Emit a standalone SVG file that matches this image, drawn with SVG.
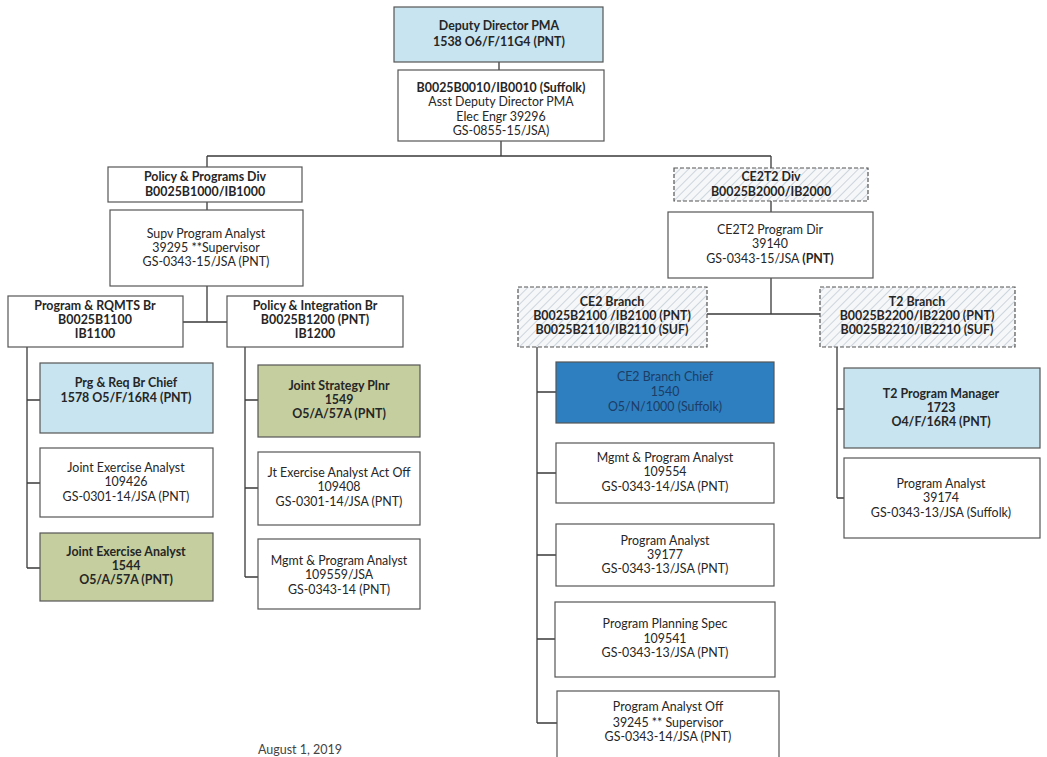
<svg xmlns="http://www.w3.org/2000/svg" width="1047" height="757" viewBox="0 0 1047 757">
<defs>
<pattern id="hatch" patternUnits="userSpaceOnUse" width="6" height="6" patternTransform="rotate(45)">
<rect width="6" height="6" fill="#f6f7f9"/>
<line x1="0" y1="0" x2="0" y2="6" stroke="#c9d1da" stroke-width="1.8"/>
</pattern>
</defs>
<style>
text{font-family:Lato,"Open Sans","Liberation Sans",sans-serif;font-size:12.4px;fill:#262626;text-anchor:middle}
.b{font-weight:bold}
.box{stroke:#555555;stroke-width:1.2}
.w{fill:#ffffff}
.lb{fill:#c7e4f0}
.gr{fill:#c4ce9f}
.db{fill:#2d7fbf}
.dbt{fill:#1d3c66}
.h{fill:url(#hatch);stroke-dasharray:4 2}
.c{stroke:#3a3a3a;stroke-width:1.3;fill:none}
</style>
<rect width="1047" height="757" fill="#ffffff"/>
<g id="connectors">
<path class="c" d="M499 62V70 M501 141V156 M207 156H771 M207 156V167 M771 156V168 M207 202V210 M771 201V212 M207 286V322 M183 322H227 M771 278V314 M707 314H820"/>
<path class="c" d="M27 347V568 M27 400H40 M27 483H40 M27 568H40"/>
<path class="c" d="M245 347V577 M245 400H258 M245 488H258 M245 577H258"/>
<path class="c" d="M537 347V723 M537 392H556 M537 473H556 M537 555H556 M537 639H556 M537 723H557"/>
<path class="c" d="M837 347V498 M837 409H844 M837 498H844"/>
</g>
<g id="deputy"><rect class="box lb" x="394" y="7" width="209" height="55"/><text class="b" x="499" y="30">Deputy Director PMA</text><text class="b" x="499" y="46">1538 O6/F/11G4 (PNT)</text></g>
<g id="asst"><rect class="box w" x="398" y="70" width="206" height="71"/><text class="b" x="501" y="92">B0025B0010/IB0010 (Suffolk)</text><text x="501" y="106">Asst Deputy Director PMA</text><text x="501" y="121">Elec Engr 39296</text><text x="501" y="135">GS-0855-15/JSA)</text></g>
<g id="ppdiv"><rect class="box w" x="108" y="167" width="194" height="35"/><text class="b" x="205" y="181">Policy &amp; Programs Div</text><text class="b" x="205" y="196">B0025B1000/IB1000</text></g>
<g id="supv"><rect class="box w" x="110" y="210" width="193" height="76"/><text x="206" y="238">Supv Program Analyst</text><text x="206" y="252">39295 **Supervisor</text><text x="206" y="266">GS-0343-15/JSA (PNT)</text></g>
<g id="rqmts"><rect class="box w" x="8" y="296" width="175" height="51"/><text class="b" x="95" y="310">Program &amp; RQMTS Br</text><text class="b" x="95" y="324">B0025B1100</text><text class="b" x="95" y="338">IB1100</text></g>
<g id="polint"><rect class="box w" x="227" y="296" width="176" height="51"/><text class="b" x="315" y="310">Policy &amp; Integration Br</text><text class="b" x="315" y="324">B0025B1200 (PNT)</text><text class="b" x="315" y="338">IB1200</text></g>
<g id="prgchief"><rect class="box lb" x="40" y="363" width="173" height="70"/><text class="b" x="126" y="387">Prg &amp; Req Br Chief</text><text class="b" x="126" y="402">1578 O5/F/16R4 (PNT)</text></g>
<g id="jea1"><rect class="box w" x="40" y="448" width="173" height="69"/><text x="126" y="472">Joint Exercise Analyst</text><text x="126" y="486">109426</text><text x="126" y="501">GS-0301-14/JSA (PNT)</text></g>
<g id="jea2"><rect class="box gr" x="40" y="533" width="173" height="68"/><text class="b" x="126" y="556">Joint Exercise Analyst</text><text class="b" x="126" y="570">1544</text><text class="b" x="126" y="584">O5/A/57A (PNT)</text></g>
<g id="jsp"><rect class="box gr" x="258" y="365" width="162" height="72"/><text class="b" x="339" y="390">Joint Strategy Plnr</text><text class="b" x="339" y="404">1549</text><text class="b" x="339" y="418">O5/A/57A (PNT)</text></g>
<g id="jeaao"><rect class="box w" x="258" y="452" width="162" height="73"/><text x="339" y="477">Jt Exercise Analyst Act Off</text><text x="339" y="491">109408</text><text x="339" y="506">GS-0301-14/JSA (PNT)</text></g>
<g id="mpa1"><rect class="box w" x="258" y="539" width="162" height="70"/><text x="339" y="565">Mgmt &amp; Program Analyst</text><text x="339" y="579">109559/JSA</text><text x="339" y="594">GS-0343-14 (PNT)</text></g>
<g id="ce2t2div"><rect class="box h" x="674" y="168" width="194" height="33"/><text class="b" x="771" y="181">CE2T2 Div</text><text class="b" x="771" y="196">B0025B2000/IB2000</text></g>
<g id="ce2t2dir"><rect class="box w" x="668" y="212" width="205" height="66"/><text x="770" y="234">CE2T2 Program Dir</text><text x="770" y="248">39140</text><text x="770" y="263">GS-0343-15/JSA <tspan class="b">(PNT)</tspan></text></g>
<g id="ce2br"><rect class="box h" x="518" y="287" width="189" height="60"/><text class="b" x="612" y="306">CE2 Branch</text><text class="b" x="612" y="320">B0025B2100 /IB2100 (PNT)</text><text class="b" x="612" y="334">B0025B2110/IB2110 (SUF)</text></g>
<g id="t2br"><rect class="box h" x="820" y="287" width="195" height="60"/><text class="b" x="917" y="306">T2 Branch</text><text class="b" x="917" y="320">B0025B2200/IB2200 (PNT)</text><text class="b" x="917" y="334">B0025B2210/IB2210 (SUF)</text></g>
<g id="ce2chief"><rect class="box db" x="556" y="362" width="218" height="61"/><text class="dbt" x="665" y="381">CE2 Branch Chief</text><text class="dbt" x="665" y="396">1540</text><text class="dbt" x="665" y="411">O5/N/1000  (Suffolk)</text></g>
<g id="mpa2"><rect class="box w" x="556" y="443" width="218" height="60"/><text x="665" y="462">Mgmt &amp; Program Analyst</text><text x="665" y="476">109554</text><text x="665" y="491">GS-0343-14/JSA (PNT)</text></g>
<g id="pa39177"><rect class="box w" x="556" y="524" width="218" height="62"/><text x="665" y="545">Program Analyst</text><text x="665" y="559">39177</text><text x="665" y="573">GS-0343-13/JSA (PNT)</text></g>
<g id="pps"><rect class="box w" x="555" y="602" width="220" height="75"/><text x="665" y="628">Program Planning Spec</text><text x="665" y="643">109541</text><text x="665" y="657">GS-0343-13/JSA (PNT)</text></g>
<g id="paoff"><rect class="box w" x="557" y="691" width="222" height="70"/><text x="668" y="711">Program Analyst Off</text><text x="668" y="727">39245 ** Supervisor</text><text x="668" y="741">GS-0343-14/JSA (PNT)</text></g>
<g id="t2pm"><rect class="box lb" x="844" y="368" width="196" height="80"/><text class="b" x="941" y="398">T2 Program Manager</text><text class="b" x="941" y="412">1723</text><text class="b" x="941" y="426">O4/F/16R4 (PNT)</text></g>
<g id="pa39174"><rect class="box w" x="844" y="458" width="196" height="80"/><text x="941" y="488">Program Analyst</text><text x="941" y="502">39174</text><text x="941" y="517">GS-0343-13/JSA (Suffolk)</text></g>
<text x="300" y="754" style="font-size:12.5px;fill:#444">August 1, 2019</text>
</svg>
